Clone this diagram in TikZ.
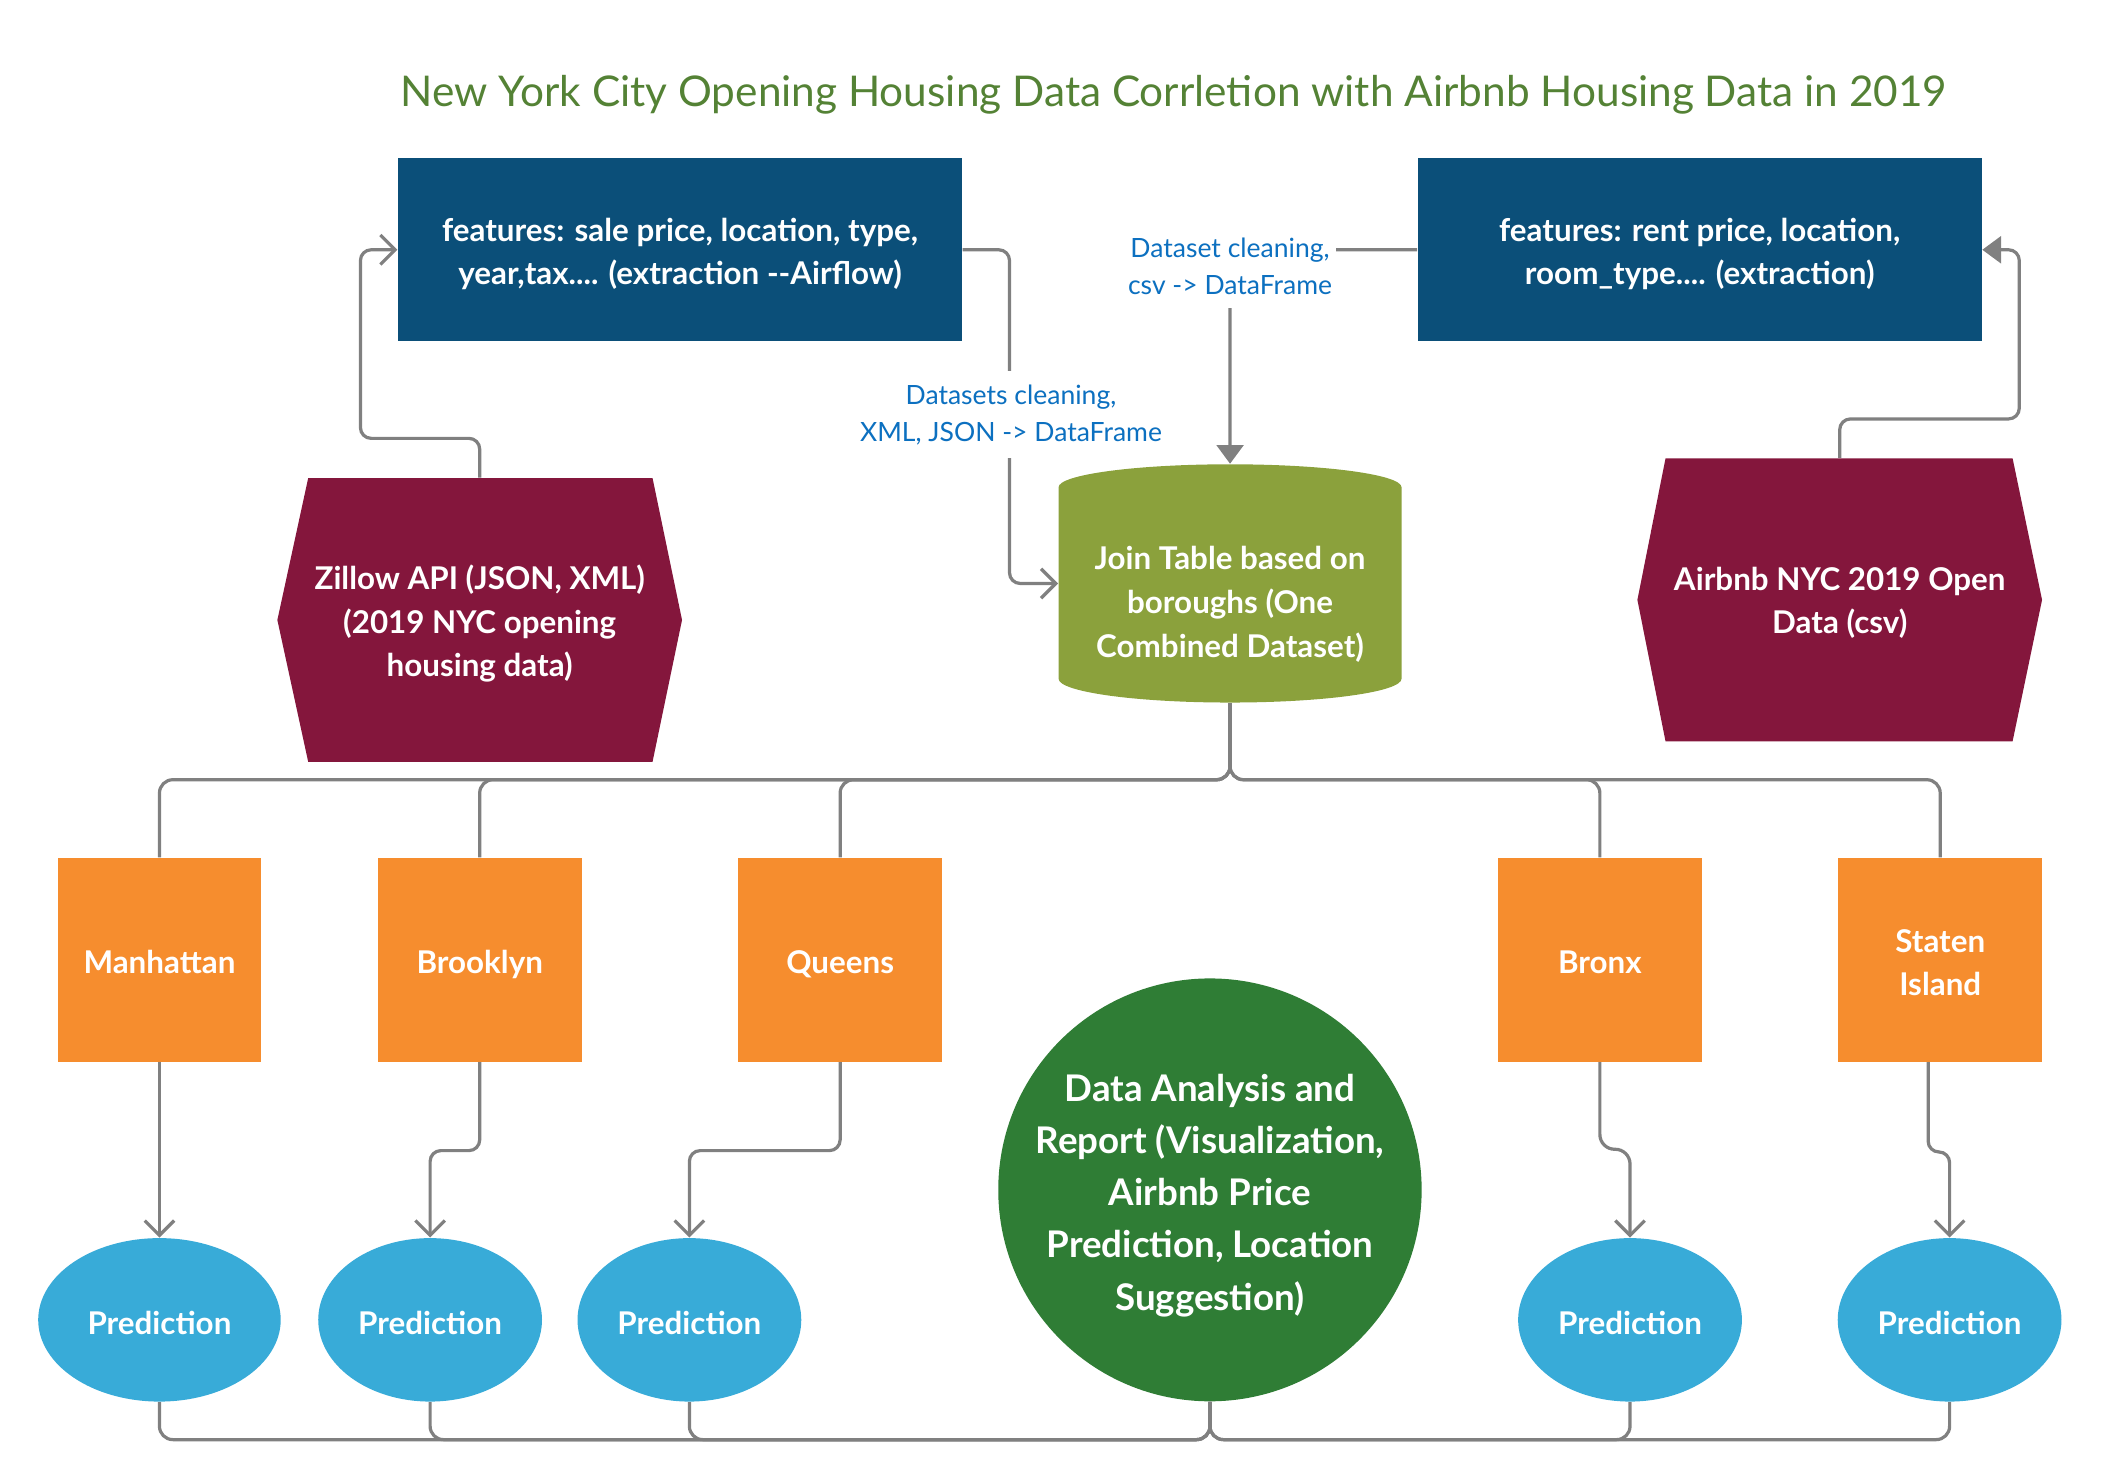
\documentclass[tikz,border=0pt]{standalone}
\usepackage{fontspec}
\setmainfont{Lato}
\usetikzlibrary{arrows.meta,shapes.geometric}
\definecolor{dblue}{HTML}{0B4F79}
\definecolor{magen}{HTML}{84163C}
\definecolor{olivec}{HTML}{8BA13C}
\definecolor{orangec}{HTML}{F68D2E}
\definecolor{lblue}{HTML}{38ABD8}
\definecolor{dgreen}{HTML}{2F7D35}
\definecolor{titlegreen}{HTML}{548235}
\definecolor{lbltext}{HTML}{0C70C0}
\definecolor{linegray}{HTML}{808080}
\newcommand\titlefnt{\fontsize{15.8}{19}\selectfont}
\newcommand\boxfnt{\fontsize{11.7}{16.3}\selectfont\bfseries}
\newcommand\lblfnt{\fontsize{9.9}{13.9}\selectfont}
\newcommand\bigfnt{\fontsize{13.7}{19.5}\selectfont\bfseries}
\begin{document}
\begin{tikzpicture}[x=0.5pt,y=-0.5pt,
  conn/.style={draw=linegray,line width=1.2pt,rounded corners=4pt},
  oarr/.style={-{Straight Barb[length=5.5pt,width=11pt]}},
  farr/.style={-{Triangle[length=7pt,width=10pt]}},
  txt/.style={text=white,align=center,font=\boxfnt,inner sep=0pt},
  onetxt/.style={txt,text height=8.6pt,text depth=0pt},
  fbox/.style={rectangle,fill=dblue,inner sep=0pt,minimum width=210.5pt,minimum height=68.4pt},
  anchorbox/.style={rectangle,draw=none,inner sep=0pt},
  boro/.style={rectangle,fill=orangec,inner sep=0pt,minimum width=76pt,minimum height=76pt},
  pred/.style={ellipse,fill=lblue,inner sep=0pt,minimum width=83.5pt,minimum height=61pt},
  lbl/.style={fill=white,text=lbltext,font=\lblfnt,align=center,inner xsep=1.5pt,inner ysep=0pt}]
\useasboundingbox (0,0) rectangle (1568,1104.5);

% title
\node[text=titlegreen,font=\titlefnt,inner sep=0pt] (title) at (876,70.5)
  {New York City Opening Housing Data Corrletion with Airbnb Housing Data in 2019};

% feature boxes
\node[fbox] (boxL) at (507.5,186.4) {};
\node[txt] (boxLt) at (507.5,189.5) {features: sale price, location, type,\\year,tax.... (extraction -{}-Airflow)};
\node[fbox] (boxR) at (1268.5,186.4) {};
\node[txt] (boxRt) at (1268.5,189.5) {features: rent price, location,\\room\_type.... (extraction)};

% hexagon sources
\fill[magen] (230,356.8) -- (487,356.8) -- (509,462.7) -- (487,568.5) -- (230,568.5) -- (207,462.7) -- cycle;
\node[anchorbox,minimum width=151pt,minimum height=105.85pt] (zil) at (358,462.7) {};
\node[txt] (ziltxt) at (358,465.5) {Zillow API (JSON, XML)\\(2019 NYC opening\\housing data)};
\fill[magen] (1243,342) -- (1502,342) -- (1524,447.7) -- (1502,553.3) -- (1243,553.3) -- (1222,447.7) -- cycle;
\node[anchorbox,minimum width=151pt,minimum height=105.65pt] (air) at (1373,447.7) {};
\node[txt] (airtxt) at (1373,450) {Airbnb NYC 2019 Open\\Data (csv)};

% cylinder
\fill[olivec] (790,363.7) arc[start angle=180,end angle=0,x radius=64pt,y radius=8.6pt]
  -- (1046,506.5) arc[start angle=0,end angle=-180,x radius=64pt,y radius=8.9pt] -- cycle;
\node[anchorbox,minimum width=128pt,minimum height=88.95pt] (join) at (918,435.45) {};
\node[txt] (jointxt) at (918,451) {Join Table based on\\boroughs (One\\Combined Dataset)};

% boroughs
\node[boro] (manh) at (119,716.3) {};
\node[boro] (brook) at (358,716.3) {};
\node[boro] (queens) at (627,716.3) {};
\node[boro] (bronx) at (1194,716.3) {};
\node[boro] (staten) at (1448,716.3) {};
\node[onetxt] (manhtxt) at (119,718) {Manhattan};
\node[onetxt] (brooktxt) at (358,718) {Brooklyn};
\node[onetxt] (queenstxt) at (627,718) {Queens};
\node[onetxt] (bronxtxt) at (1194,718) {Bronx};
\node[txt] (statentxt) at (1448,718.5) {Staten\\Island};

% predictions
\node[pred,minimum width=90.5pt] (p1) at (119,985) {};
\node[pred] (p2) at (321,985) {};
\node[pred] (p3) at (514.5,985) {};
\node[pred] (p4) at (1216.5,985) {};
\node[pred] (p5) at (1455,985) {};
\foreach \p in {p1,p2,p3,p4,p5}
  \node[onetxt] (\p txt) at ([yshift=-1pt]\p.center) {Prediction};

% analysis circle
\fill[dgreen] (903,888) ellipse[x radius=79pt,y radius=78.9pt];
\node[anchorbox,minimum width=158pt,minimum height=157.8pt] (ana) at (903,888) {};
\node[text=white,align=center,font=\bigfnt,inner sep=0pt] (anatxt) at (903,892)
  {Data Analysis and\\Report (Visualization,\\Airbnb Price\\Prediction, Location\\Suggestion)};

% connectors top
\draw[conn,oarr] (zil.north) -- ++(0,-29.3) -- ++(-89,0) |- (boxL.west);
\draw[conn,farr] (air.north) -- ++(0,-29) -- ++(134,0) |- (boxR.east);
\coordinate (rc) at (918,186.4);
\draw[conn,farr] (boxR.west) -- (rc) -- (join.north);
\draw[conn,oarr] (boxL.east) -- ++(35,0) |- (join.west);
\node[lbl,minimum height=32.5pt] (lab1) at (754.5,309.5) {Datasets cleaning,\\XML, JSON -> DataFrame};
\node[lbl,minimum height=30.5pt] (lab2) at (918,199) {Dataset cleaning,\\csv -> DataFrame};

% branch to boroughs
\coordinate (tj) at (918,581.9);
\foreach \b in {manh,brook,queens,bronx,staten}
  \draw[conn,rounded corners=5pt] (join.south) -- (tj) -| (\b.north);

% boroughs to predictions
\draw[conn,oarr] (manh.south) -- (p1.north);
\draw[conn,oarr] (brook.south) -- ++(0,66) -| (p2.north);
\draw[conn,oarr] (queens.south) -- ++(0,66) -| (p3.north);
\draw[conn,oarr,rounded corners=5.5pt] (bronx.south) -- ++(0,65) -| (p4.north);
\draw[conn,oarr,rounded corners=4pt] (staten.south) ++(-9,0) -- ++(0,67) -| (p5.north);

% predictions to analysis
\coordinate (bj) at (903,1074.4);
\foreach \p in {p1,p2,p3,p4,p5}
  \draw[conn,rounded corners=5pt] (\p.south) |- (bj) -- (ana.south);
\end{tikzpicture}
\end{document}
